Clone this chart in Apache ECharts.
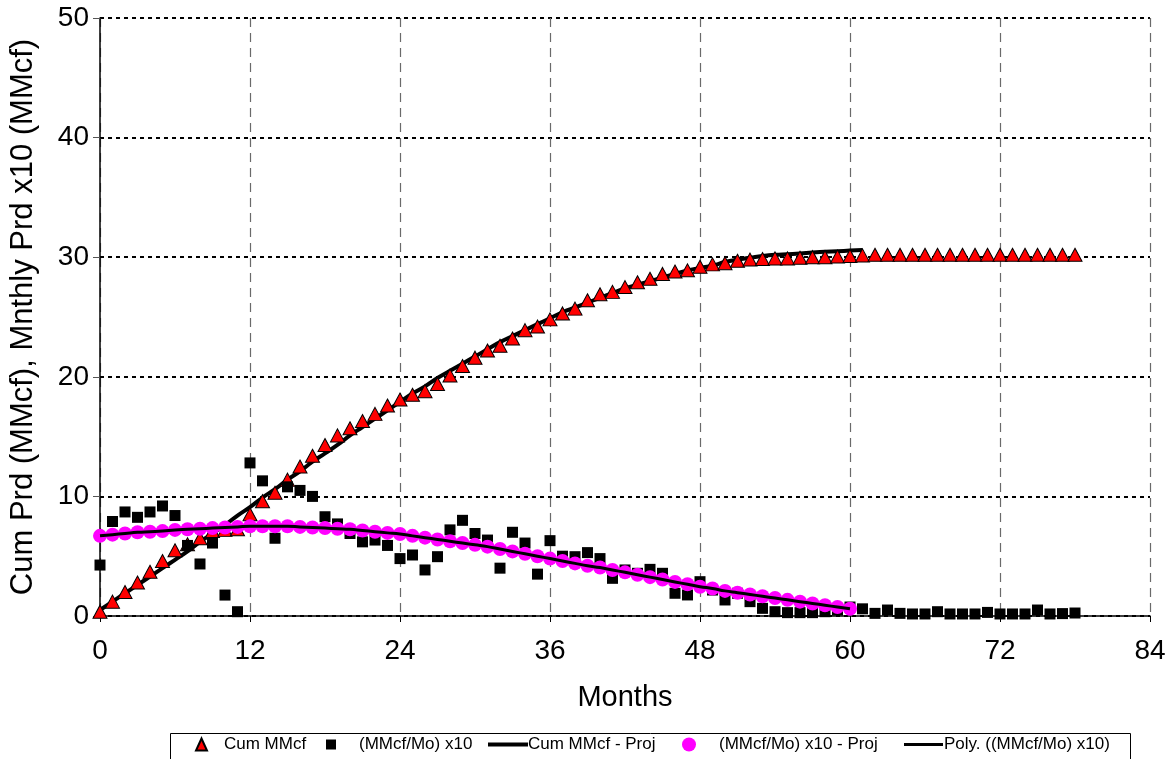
<!DOCTYPE html>
<html>
<head>
<meta charset="utf-8">
<title>Cumulative and Monthly Production</title>
<script src="https://cdn.jsdelivr.net/npm/echarts@6/dist/echarts.min.js"></script>
<style>
  html, body { margin: 0; padding: 0; background: #ffffff; }
  #chart { width: 1175px; height: 759px; }
</style>
</head>
<body>
<div id="chart"></div>
<script>
// Months 0..78: cumulative gas produced (MMcf)
const cumMMcf = [
  0.36, 1.2, 2.0, 2.8, 3.7, 4.6, 5.5, 6.0, 6.5, 7.1,
  7.2, 7.25, 8.5, 9.6, 10.3, 11.4, 12.5, 13.4, 14.3, 15.1,
  15.7, 16.3, 16.9, 17.6, 18.1, 18.5, 18.8, 19.4, 20.1, 20.9,
  21.6, 22.2, 22.6, 23.2, 23.9, 24.2, 24.8, 25.3, 25.7, 26.4,
  26.9, 27.1, 27.5, 27.9, 28.2, 28.6, 28.8, 28.9, 29.2, 29.4,
  29.5, 29.7, 29.8, 29.85, 29.9, 29.9, 29.95, 30.0, 30.0, 30.05,
  30.1, 30.15, 30.2, 30.2, 30.2, 30.2, 30.2, 30.2, 30.2, 30.2,
  30.2, 30.2, 30.2, 30.2, 30.2, 30.2, 30.2, 30.2, 30.2
];

// Months 0..78: monthly production x10 (MMcf)
const monthlyX10 = [
  4.26, 7.9, 8.7, 8.25, 8.7, 9.2, 8.4, 5.9, 4.35, 6.1,
  1.75, 0.36, 12.8, 11.3, 6.5, 10.8, 10.5, 10.0, 8.3, 7.7,
  6.9, 6.2, 6.35, 5.9, 4.8, 5.1, 3.85, 4.96, 7.2, 8.0,
  6.9, 6.35, 4.0, 7.0, 6.1, 3.5, 6.3, 5.0, 4.96, 5.3,
  4.8, 3.15, 3.85, 3.57, 3.9, 3.57, 1.9, 1.76, 2.87, 2.17,
  1.34, 1.9, 1.2, 0.64, 0.36, 0.28, 0.28, 0.28, 0.36, 0.5,
  0.75, 0.6, 0.22, 0.5, 0.22, 0.17, 0.17, 0.36, 0.17, 0.17,
  0.17, 0.3, 0.17, 0.17, 0.17, 0.5, 0.17, 0.2, 0.25
];

// Months 0..61: projected cumulative (MMcf)
const cumProj = [
  0.5, 1.2, 1.9, 2.6, 3.3, 4.0, 4.7, 5.4, 6.2, 6.9,
  7.6, 8.4, 9.1, 9.9, 10.6, 11.4, 12.1, 12.9, 13.6, 14.3,
  15.1, 15.8, 16.5, 17.2, 17.9, 18.6, 19.2, 19.9, 20.5, 21.1,
  21.7, 22.3, 22.9, 23.4, 23.9, 24.4, 24.9, 25.4, 25.8, 26.2,
  26.6, 27.0, 27.4, 27.7, 28.0, 28.3, 28.6, 28.9, 29.1, 29.3,
  29.6, 29.8, 29.95, 30.1, 30.2, 30.25, 30.3, 30.4, 30.45, 30.5,
  30.55, 30.6
];

// Months 0..60: projected monthly production x10 (polynomial fit)
const monthlyProj = [
  6.7, 6.8, 6.9, 7.0, 7.05, 7.1, 7.2, 7.25, 7.3, 7.35,
  7.4, 7.45, 7.5, 7.5, 7.5, 7.5, 7.45, 7.4, 7.35, 7.3,
  7.25, 7.15, 7.05, 6.95, 6.85, 6.7, 6.55, 6.4, 6.25, 6.1,
  5.95, 5.8, 5.6, 5.4, 5.2, 5.0, 4.8, 4.6, 4.4, 4.2,
  4.05, 3.85, 3.65, 3.45, 3.25, 3.05, 2.85, 2.65, 2.45, 2.3,
  2.1, 1.95, 1.8, 1.65, 1.5, 1.35, 1.2, 1.05, 0.9, 0.75,
  0.6
];

const xTicks = { min: 0, max: 84, interval: 12 };
const yTicks = { min: 0, max: 50, interval: 10 };

const names = {
  cum: 'Cum MMcf',
  monthly: '(MMcf/Mo) x10',
  cumProj: 'Cum MMcf - Proj',
  monthlyProj: '(MMcf/Mo) x10 - Proj',
  poly: 'Poly. ((MMcf/Mo) x10)'
};

const pairs = arr => arr.map((v, i) => [i, v]);
const FONT = '"Liberation Sans", Arial, sans-serif';

// One legend block per entry so each icon and label can be placed on its own
function legendItem(name, left, icon, w, h, keep, textPad) {
  return {
    show: true,
    data: [{ name: name, icon: icon }],
    left: left,
    top: 736,
    padding: 0,
    itemWidth: w,
    itemHeight: h,
    symbolKeepAspect: keep,
    selectedMode: false,
    textStyle: {
      fontFamily: FONT, fontSize: 17, color: '#000',
      padding: [0, 0, 0, textPad]
    }
  };
}

const chart = echarts.init(document.getElementById('chart'), null, { renderer: 'canvas' });

chart.setOption({
  backgroundColor: '#ffffff',
  animation: false,
  textStyle: { fontFamily: FONT },
  grid: { left: 99, right: 25, top: 18, bottom: 143, containLabel: false },
  graphic: [{
    type: 'rect',
    shape: { x: 170.5, y: 733.5, width: 960, height: 40 },
    style: { fill: '#ffffff', stroke: '#000000', lineWidth: 1 },
    z: -1
  }],
  legend: [
    legendItem(names.cum, 195, 'triangle', 11, 12, false, 12),
    legendItem(names.monthly, 326, 'rect', 10, 10, true, 18),
    legendItem(names.cumProj, 488, 'rect', 40, 4, false, -5),
    legendItem(names.monthlyProj, 682, 'circle', 14, 14, true, 18),
    legendItem(names.poly, 904, 'rect', 39, 3, false, -4)
  ],
  xAxis: {
    type: 'value',
    min: xTicks.min, max: xTicks.max, interval: xTicks.interval,
    name: 'Months',
    nameLocation: 'middle',
    nameGap: 67,
    nameTextStyle: { fontFamily: FONT, fontSize: 29, color: '#000' },
    axisLine: { show: true, onZero: false, lineStyle: { color: '#000', width: 1.5 } },
    axisTick: { show: true, inside: false, length: 6, lineStyle: { color: '#000' } },
    axisLabel: { fontFamily: FONT, fontSize: 28, color: '#000', margin: 21 },
    splitLine: {
      show: true,
      lineStyle: { color: '#6a6a6a', width: 1.2, type: [9, 6] }
    }
  },
  yAxis: {
    type: 'value',
    min: yTicks.min, max: yTicks.max, interval: yTicks.interval,
    name: 'Cum Prd (MMcf), Mnthly Prd x10 (MMcf)',
    nameLocation: 'middle',
    nameGap: 61,
    nameTextStyle: { fontFamily: FONT, fontSize: 31, color: '#000' },
    axisLine: { show: true, onZero: false, lineStyle: { color: '#000', width: 1.5 } },
    axisTick: { show: true, inside: false, length: 7, lineStyle: { color: '#555' } },
    axisLabel: { fontFamily: FONT, fontSize: 28, color: '#000', margin: 11 },
    splitLine: {
      show: true,
      lineStyle: { color: '#000', width: 2, type: [4, 4] }
    }
  },
  series: [
    {
      name: names.cum,
      type: 'scatter',
      data: pairs(cumMMcf),
      symbol: 'triangle',
      symbolSize: [14, 13],
      itemStyle: { color: '#ff0000', borderColor: '#000', borderWidth: 1, opacity: 1 },
      z: 3
    },
    {
      name: names.monthly,
      type: 'scatter',
      data: pairs(monthlyX10),
      symbol: 'rect',
      symbolSize: 11,
      itemStyle: { color: '#000000', opacity: 1 },
      z: 4
    },
    {
      name: names.cumProj,
      type: 'line',
      data: pairs(cumProj),
      smooth: true,
      showSymbol: false,
      symbol: 'none',
      lineStyle: { color: '#000', width: 4 },
      itemStyle: { color: '#000' },
      z: 2
    },
    {
      name: names.monthlyProj,
      type: 'scatter',
      data: pairs(monthlyProj),
      symbol: 'circle',
      symbolSize: 14,
      itemStyle: { color: '#ff00ff', opacity: 1 },
      z: 5
    },
    {
      name: names.poly,
      type: 'line',
      data: pairs(monthlyProj),
      smooth: true,
      showSymbol: false,
      symbol: 'none',
      lineStyle: { color: '#000', width: 3 },
      itemStyle: { color: '#000' },
      z: 6
    }
  ]
});
</script>
</body>
</html>
